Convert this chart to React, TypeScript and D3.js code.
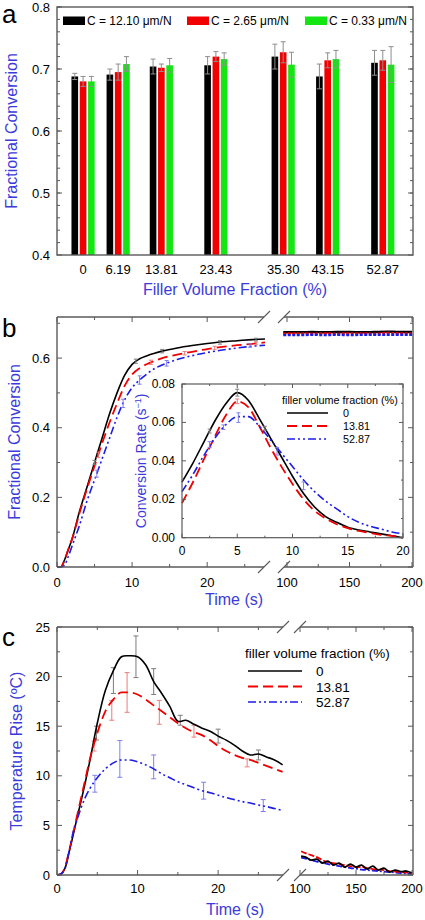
import React from 'react';
import * as d3 from 'd3';

const FONT = '"Liberation Sans", Arial, Helvetica, sans-serif';
const LABEL_BLUE = '#3b3bdb';
const FRAME = '#5a5a5a';

// ---------------- panel a data ----------------
const fillerFractions = [0, 6.19, 13.81, 23.43, 35.3, 43.15, 52.87];
const fillerLabels = ['0', '6.19', '13.81', '23.43', '35.30', '43.15', '52.87'];
const complianceNames = ['C = 12.10 μm/N', 'C = 2.65 μm/N', 'C = 0.33 μm/N'];
const complianceColors = ['#000000', '#f20000', '#14e614'];
const conversionC1210 = [0.688, 0.691, 0.704, 0.706, 0.72, 0.688, 0.71];
const errorC1210 = [0.005, 0.009, 0.012, 0.014, 0.02, 0.02, 0.02];
const conversionC265 = [0.68, 0.695, 0.702, 0.72, 0.727, 0.714, 0.714];
const errorC265 = [0.008, 0.013, 0.006, 0.008, 0.017, 0.012, 0.016];
const conversionC033 = [0.68, 0.708, 0.706, 0.716, 0.707, 0.716, 0.707];
const errorC033 = [0.008, 0.012, 0.011, 0.01, 0.02, 0.014, 0.029];
const yTicksA = [0.4, 0.5, 0.6, 0.7, 0.8];

// ---------------- panel b data ----------------
const fractionNames = ['0', '13.81', '52.87'];
const timeB = [0, 0.5, 1, 1.5, 2, 3, 4, 5, 6, 7, 8, 9, 10, 11, 12, 13, 14, 16, 18, 20, 22, 24, 26, 27.7];
const convB0 = [0, 0, 0.02, 0.05, 0.08, 0.16, 0.23, 0.3, 0.37, 0.44, 0.5, 0.55, 0.582, 0.598, 0.607, 0.614, 0.62, 0.629, 0.636, 0.642, 0.647, 0.65, 0.653, 0.655];
const convB1381 = [0, 0, 0.02, 0.05, 0.08, 0.155, 0.225, 0.29, 0.355, 0.415, 0.47, 0.52, 0.553, 0.571, 0.583, 0.592, 0.6, 0.61, 0.618, 0.626, 0.632, 0.637, 0.641, 0.645];
const convB5287 = [0, 0, 0.005, 0.03, 0.06, 0.12, 0.19, 0.25, 0.31, 0.37, 0.43, 0.48, 0.515, 0.537, 0.555, 0.57, 0.58, 0.596, 0.607, 0.616, 0.623, 0.629, 0.634, 0.637];
const timeBLate = [97, 110, 120, 130, 140, 150, 160, 170, 180, 190, 200];
const convBLate0 = [0.674, 0.674, 0.675, 0.674, 0.675, 0.675, 0.674, 0.675, 0.676, 0.675, 0.675];
const convBLate1381 = [0.67, 0.671, 0.67, 0.671, 0.67, 0.671, 0.671, 0.67, 0.672, 0.671, 0.671];
const convBLate5287 = [0.666, 0.666, 0.667, 0.666, 0.667, 0.666, 0.667, 0.667, 0.667, 0.667, 0.667];
const errTimeB0 = [5, 10.5, 14, 21.7, 26.5];
const errCenterB0 = [0.3, 0.591, 0.62, 0.645, 0.653];
const errSizeB0 = [0.006, 0.006, 0.005, 0.005, 0.004];
const errTimeB1381 = [5.5, 12.5, 17, 21, 26.5];
const errCenterB1381 = [0.322, 0.588, 0.614, 0.629, 0.642];
const errSizeB1381 = [0.008, 0.006, 0.005, 0.005, 0.004];
const errTimeB5287 = [5.3, 8.8, 11, 14.6, 25.7];
const errCenterB5287 = [0.268, 0.47, 0.537, 0.585, 0.636];
const errSizeB5287 = [0.01, 0.012, 0.012, 0.008, 0.005];

// inset (conversion rate)
const timeInset = [0, 1, 2, 3, 4, 5, 6, 7, 8, 9, 10, 11, 12, 13, 14, 15, 16, 17, 18, 19, 20];
const rate0 = [0.029, 0.039, 0.05, 0.061, 0.07, 0.0755, 0.0715, 0.062, 0.052, 0.042, 0.032, 0.023, 0.016, 0.011, 0.008, 0.0055, 0.004, 0.003, 0.002, 0.001, 0];
const rate1381 = [0.018, 0.029, 0.041, 0.053, 0.064, 0.071, 0.068, 0.058, 0.047, 0.037, 0.028, 0.02, 0.014, 0.01, 0.007, 0.005, 0.0035, 0.0025, 0.0015, 0.001, 0];
const rate5287 = [0.024, 0.033, 0.043, 0.052, 0.059, 0.063, 0.063, 0.058, 0.051, 0.044, 0.037, 0.03, 0.024, 0.019, 0.015, 0.011, 0.008, 0.006, 0.0045, 0.003, 0.002];
const errTimeI0 = [2.5, 5, 7.5];
const errCenterI0 = [0.0555, 0.0755, 0.057];
const errSizeI0 = [0.001, 0.0018, 0.001];
const errTimeI1381 = [5];
const errCenterI1381 = [0.071];
const errSizeI1381 = [0.0012];
const errTimeI5287 = [2.5, 3.75, 5.1, 8.6, 11];
const errCenterI5287 = [0.0485, 0.0575, 0.0625, 0.045, 0.027];
const errSizeI5287 = [0.0015, 0.0012, 0.0025, 0.002, 0.002];

// ---------------- panel c data ----------------
const timeC = [0, 0.5, 1, 1.5, 2, 2.5, 3, 3.5, 4, 5, 6, 7, 8, 9, 10, 11, 12, 13, 14, 15, 16, 17, 18, 19, 20, 21, 22, 23, 24, 25, 26, 27, 28];
const tempC0 = [0, 0.1, 0.7, 2.3, 4.0, 5.8, 7.5, 9.3, 11.2, 15.3, 18.6, 20.6, 22.0, 22.1, 22.0, 21.2, 19.5, 18.3, 17.0, 15.5, 15.6, 15.2, 14.8, 14.5, 14.0, 13.6, 13.1, 12.5, 12.1, 12.2, 11.9, 11.6, 11.1];
const tempC1381 = [0, 0.1, 0.8, 2.4, 4.2, 6.0, 7.8, 9.6, 11.4, 14.3, 16.5, 17.7, 18.4, 18.4, 18.2, 17.7, 17.1, 16.5, 15.9, 15.3, 14.8, 14.4, 14.1, 13.6, 13.0, 12.5, 12.1, 11.8, 11.6, 11.3, 11.0, 10.7, 10.4];
const tempC5287 = [0, 0.1, 0.7, 2.4, 4.3, 5.6, 6.8, 7.8, 8.6, 9.8, 10.7, 11.3, 11.6, 11.6, 11.4, 11.1, 10.7, 10.2, 9.8, 9.4, 9.1, 8.8, 8.5, 8.3, 8.05, 7.8, 7.6, 7.4, 7.25, 7.05, 6.9, 6.7, 6.5];
const timeCLate = [101, 105, 110, 115, 120, 125, 130, 135, 140, 145, 150, 155, 160, 165, 170, 175, 180, 185, 190, 195, 200];
const tempCLate0 = [1.9, 1.8, 1.5, 1.6, 1.2, 1.4, 1.0, 1.2, 0.8, 1.1, 0.8, 1.0, 0.6, 0.9, 0.5, 0.7, 0.3, 0.5, 0.35, 0.4, 0.2];
const tempCLate1381 = [2.4, 2.2, 2.0, 1.8, 1.5, 1.3, 1.2, 1.1, 1.0, 0.9, 0.8, 0.8, 0.7, 0.6, 0.55, 0.5, 0.4, 0.35, 0.3, 0.25, 0.2];
const tempCLate5287 = [1.75, 1.65, 1.5, 1.35, 1.25, 1.1, 1.0, 0.9, 0.8, 0.7, 0.65, 0.55, 0.5, 0.45, 0.4, 0.35, 0.3, 0.25, 0.2, 0.15, 0.15];
const errTimeC0 = [4.9, 7.0, 9.8, 12.0, 15.3, 20.0, 25.0];
const errCenterC0 = [14.3, 19.6, 22.0, 19.5, 15.6, 14.0, 12.1];
const errSizeC0 = [0.7, 1.3, 2.1, 1.3, 0.5, 0.7, 0.5];
const errTimeC1381 = [4.6, 6.8, 8.7, 12.7, 17.0, 23.6];
const errCenterC1381 = [13.0, 16.6, 18.4, 16.4, 14.5, 11.3];
const errSizeC1381 = [0.5, 1.0, 2.0, 1.2, 0.6, 0.4];
const errTimeC5287 = [4.7, 7.8, 12.0, 18.2, 25.6];
const errCenterC5287 = [9.2, 11.7, 10.9, 8.5, 7.0];
const errSizeC5287 = [0.85, 1.85, 1.2, 0.85, 0.6];

// ---------------- styles ----------------
const lineStyles = [
  { color: '#000000', dash: undefined as string | undefined, width: 1.6, err: '#7c7c7c' },
  { color: '#f00000', dash: '10,5', width: 1.8, err: '#f07a7a' },
  { color: '#1c1ce8', dash: '8,3,2,3,2,3', width: 1.6, err: '#7f7fee' },
];

type Lin = d3.ScaleLinear<number, number>;

function zip(xs: number[], ys: number[]): [number, number][] {
  return xs.map((x, i) => [x, ys[i]]);
}

function pathOf(x: Lin, y: Lin, data: [number, number][], curve: any = d3.curveMonotoneX) {
  return d3
    .line<[number, number]>()
    .x((d) => x(d[0]))
    .y((d) => y(d[1]))
    .curve(curve)(data) as string;
}

function YTicks({ y, values, left, right, len }: { y: Lin; values: number[]; left: number; right: number; len: number }) {
  return (
    <g stroke={FRAME} strokeWidth={1}>
      {values.map((v, i) => (
        <g key={i}>
          <line x1={left} x2={left + len} y1={y(v)} y2={y(v)} />
          <line x1={right} x2={right - len} y1={y(v)} y2={y(v)} />
        </g>
      ))}
    </g>
  );
}

function XTicks({ x, values, top, bottom, len }: { x: Lin; values: number[]; top: number; bottom: number; len: number }) {
  return (
    <g stroke={FRAME} strokeWidth={1}>
      {values.map((v, i) => (
        <g key={i}>
          <line x1={x(v)} x2={x(v)} y1={bottom} y2={bottom - len} />
          <line x1={x(v)} x2={x(v)} y1={top} y2={top + len} />
        </g>
      ))}
    </g>
  );
}

function ErrorBars({ x, y, times, centers, sizes, color, cap = 2.5 }: any) {
  return (
    <g stroke={color} strokeWidth={1}>
      {times.map((t: number, i: number) => {
        const cx = x(t);
        const y1 = y(centers[i] - sizes[i]);
        const y2 = y(centers[i] + sizes[i]);
        return (
          <g key={i}>
            <line x1={cx} x2={cx} y1={y1} y2={y2} />
            <line x1={cx - cap} x2={cx + cap} y1={y1} y2={y1} />
            <line x1={cx - cap} x2={cx + cap} y1={y2} y2={y2} />
          </g>
        );
      })}
    </g>
  );
}

function Slash({ cx, cy }: { cx: number; cy: number }) {
  return <line x1={cx - 6} y1={cy + 6} x2={cx + 6} y2={cy - 6} stroke={FRAME} strokeWidth={1.1} />;
}

function BrokenFrame({ L, R, T, B, b1, b2 }: { L: number; R: number; T: number; B: number; b1: number; b2: number }) {
  return (
    <g stroke={FRAME} strokeWidth={1.4} fill="none">
      <line x1={L} x2={L} y1={T} y2={B} />
      <line x1={R} x2={R} y1={T} y2={B} />
      <line x1={L} x2={b1} y1={T} y2={T} />
      <line x1={b2} x2={R} y1={T} y2={T} />
      <line x1={L} x2={b1} y1={B} y2={B} />
      <line x1={b2} x2={R} y1={B} y2={B} />
      <Slash cx={b1} cy={T} />
      <Slash cx={b2} cy={T} />
      <Slash cx={b1} cy={B} />
      <Slash cx={b2} cy={B} />
    </g>
  );
}

// ---------------- panel a ----------------
function PanelA() {
  const L = 57, R = 413, T = 7, B = 255;
  const x = d3.scaleLinear().domain([-4.6, 58.2]).range([L, R]);
  const y = d3.scaleLinear().domain([0.4, 0.8]).range([B, T]);
  const band = d3.scaleBand<number>().domain([0, 1, 2]).range([-11.6, 11.6]).paddingInner(0.2);
  const series = [
    { values: conversionC1210, errors: errorC1210 },
    { values: conversionC265, errors: errorC265 },
    { values: conversionC033, errors: errorC033 },
  ];
  const minor = d3.range(0.42, 0.8, 0.02);
  const legendX = [63, 187, 305];
  return (
    <g>
      {series.map((s, si) =>
        s.values.map((v, i) => (
          <rect
            key={`${si}-${i}`}
            x={x(fillerFractions[i]) + (band(si) as number)}
            y={y(v)}
            width={band.bandwidth()}
            height={y(0.4) - y(v)}
            fill={complianceColors[si]}
          />
        ))
      )}
      {series.map((s, si) =>
        s.values.map((v, i) => {
          const cx = x(fillerFractions[i]) + (band(si) as number) + band.bandwidth() / 2;
          const y1 = y(v - s.errors[i]);
          const y2 = y(v + s.errors[i]);
          return (
            <g key={`e${si}-${i}`} stroke="#8e8e8e" strokeWidth={1}>
              <line x1={cx} x2={cx} y1={y1} y2={y2} />
              <line x1={cx - 2.5} x2={cx + 2.5} y1={y1} y2={y1} />
              <line x1={cx - 2.5} x2={cx + 2.5} y1={y2} y2={y2} />
            </g>
          );
        })
      )}
      <rect x={L} y={T} width={R - L} height={B - T} fill="none" stroke={FRAME} strokeWidth={1.4} />
      <YTicks y={y} values={yTicksA} left={L} right={R} len={5} />
      <YTicks y={y} values={minor} left={L} right={R} len={3} />
      {yTicksA.map((v) => (
        <text key={v} x={50} y={y(v) + 4.5} fontSize={13} textAnchor="end">
          {v.toFixed(1)}
        </text>
      ))}
      {fillerFractions.map((f, i) => (
        <text key={f} x={x(f)} y={274} fontSize={13} textAnchor="middle">
          {fillerLabels[i]}
        </text>
      ))}
      <text x={235} y={295} fontSize={16} fill={LABEL_BLUE} textAnchor="middle">
        Filler Volume Fraction (%)
      </text>
      <text transform={`translate(17,${(T + B) / 2}) rotate(-90)`} fontSize={16} fill={LABEL_BLUE} textAnchor="middle">
        Fractional Conversion
      </text>
      <text x={2} y={23} fontSize={26}>a</text>
      {complianceNames.map((n, i) => (
        <g key={n}>
          <rect x={legendX[i]} y={16.5} width={22} height={8.5} fill={complianceColors[i]} />
          <text x={legendX[i] + 24} y={25} fontSize={12}>
            {n}
          </text>
        </g>
      ))}
    </g>
  );
}

// ---------------- panel b ----------------
function PanelB() {
  const L = 57, R = 413, T = 317, B = 567;
  const b1 = 264, b2 = 284;
  const xL = d3.scaleLinear().domain([0, 27.7]).range([L, 265]);
  const xR = d3.scaleLinear().domain([100, 200]).range([287, 412]);
  const y = d3.scaleLinear().domain([0, 0.718]).range([B, T]);
  const early = [convB0, convB1381, convB5287];
  const late = [convBLate0, convBLate1381, convBLate5287];
  const errs = [
    [errTimeB0, errCenterB0, errSizeB0],
    [errTimeB1381, errCenterB1381, errSizeB1381],
    [errTimeB5287, errCenterB5287, errSizeB5287],
  ];

  // inset
  const IL = 182, IR = 403, IT = 384, IB = 537.7;
  const xi = d3.scaleLinear().domain([0, 20]).range([IL, IR]);
  const yi = d3.scaleLinear().domain([0, 0.08]).range([IB, IT]);
  const rates = [rate0, rate1381, rate5287];
  const ierrs = [
    [errTimeI0, errCenterI0, errSizeI0],
    [errTimeI1381, errCenterI1381, errSizeI1381],
    [errTimeI5287, errCenterI5287, errSizeI5287],
  ];
  const iYMajor = [0, 0.02, 0.04, 0.06, 0.08];
  const iYMinor = [0.01, 0.03, 0.05, 0.07];
  const iXMajor = [0, 5, 10, 15, 20];
  const iXMinor = [2.5, 7.5, 12.5, 17.5];

  return (
    <g>
      {early.map((vals, si) => (
        <path
          key={`l${si}`}
          d={pathOf(xL, y, zip(timeB, vals))}
          fill="none"
          stroke={lineStyles[si].color}
          strokeWidth={lineStyles[si].width}
          strokeDasharray={lineStyles[si].dash}
        />
      ))}
      {errs.map((e, si) => (
        <ErrorBars key={`eb${si}`} x={xL} y={y} times={e[0]} centers={e[1]} sizes={e[2]} color={lineStyles[si].err} cap={2} />
      ))}
      {late.map((vals, si) => (
        <path
          key={`r${si}`}
          d={pathOf(xR, y, zip(timeBLate, vals))}
          fill="none"
          stroke={lineStyles[si].color}
          strokeWidth={2.4}
          strokeDasharray={si === 0 ? undefined : '3,1.5'}
        />
      ))}
      <BrokenFrame L={L} R={R} T={T} B={B} b1={b1} b2={b2} />
      <YTicks y={y} values={[0, 0.2, 0.4, 0.6]} left={L} right={R} len={5} />
      <YTicks y={y} values={[0.1, 0.3, 0.5, 0.7]} left={L} right={R} len={3} />
      <XTicks x={xL} values={[0, 10, 20]} top={T} bottom={B} len={5} />
      <XTicks x={xL} values={[5, 15, 25]} top={T} bottom={B} len={3} />
      <XTicks x={xR} values={[100, 150, 200]} top={T} bottom={B} len={5} />
      <XTicks x={xR} values={[125, 175]} top={T} bottom={B} len={3} />
      {[0, 0.2, 0.4, 0.6].map((v) => (
        <text key={v} x={50} y={y(v) + 4.5} fontSize={13} textAnchor="end">
          {v.toFixed(1)}
        </text>
      ))}
      {[0, 10, 20].map((v) => (
        <text key={v} x={xL(v)} y={587} fontSize={13} textAnchor="middle">
          {v}
        </text>
      ))}
      {[100, 150, 200].map((v) => (
        <text key={v} x={xR(v)} y={587} fontSize={13} textAnchor="middle">
          {v}
        </text>
      ))}
      <text x={234} y={605} fontSize={16} fill={LABEL_BLUE} textAnchor="middle">
        Time (s)
      </text>
      <text transform={`translate(20,${(T + B) / 2}) rotate(-90)`} fontSize={16} fill={LABEL_BLUE} textAnchor="middle">
        Fractional Conversion
      </text>
      <text x={2} y={337} fontSize={26}>b</text>

      {/* inset */}
      <rect x={IL} y={IT} width={IR - IL} height={IB - IT} fill="#fff" />
      {rates.map((vals, si) => (
        <path
          key={`i${si}`}
          d={pathOf(xi, yi, zip(timeInset, vals))}
          fill="none"
          stroke={lineStyles[si].color}
          strokeWidth={lineStyles[si].width}
          strokeDasharray={lineStyles[si].dash}
        />
      ))}
      {ierrs.map((e, si) => (
        <ErrorBars key={`ie${si}`} x={xi} y={yi} times={e[0]} centers={e[1]} sizes={e[2]} color={lineStyles[si].err} cap={2} />
      ))}
      <rect x={IL} y={IT} width={IR - IL} height={IB - IT} fill="none" stroke={FRAME} strokeWidth={1.2} />
      <YTicks y={yi} values={iYMajor} left={IL} right={IR} len={4} />
      <YTicks y={yi} values={iYMinor} left={IL} right={IR} len={2} />
      <XTicks x={xi} values={iXMajor} top={IT} bottom={IB} len={4} />
      <XTicks x={xi} values={iXMinor} top={IT} bottom={IB} len={2} />
      {iYMajor.map((v) => (
        <text key={v} x={175} y={yi(v) + 4} fontSize={12} textAnchor="end">
          {v.toFixed(2)}
        </text>
      ))}
      {iXMajor.map((v) => (
        <text key={v} x={xi(v)} y={555} fontSize={12} textAnchor="middle">
          {v}
        </text>
      ))}
      <text transform={`translate(146,${(IT + IB) / 2}) rotate(-90)`} fontSize={14} fill={LABEL_BLUE} textAnchor="middle">
        Conversion Rate (s<tspan baselineShift="super" fontSize={9}>−1</tspan>)
      </text>
      <text x={282} y={404} fontSize={10.8}>
        filler volume fraction (%)
      </text>
      {fractionNames.map((n, i) => (
        <g key={n}>
          <line
            x1={287}
            x2={328}
            y1={413 + i * 13}
            y2={413 + i * 13}
            stroke={lineStyles[i].color}
            strokeWidth={lineStyles[i].width}
            strokeDasharray={lineStyles[i].dash}
          />
          <text x={343} y={417 + i * 13} fontSize={10.8}>
            {n}
          </text>
        </g>
      ))}
    </g>
  );
}

// ---------------- panel c ----------------
function PanelC() {
  const L = 57, R = 413, T = 627, B = 875;
  const b1 = 283, b2 = 300;
  const xL = d3.scaleLinear().domain([0, 28.3]).range([L, 285]);
  const xR = d3.scaleLinear().domain([100, 200]).range([300, 412]);
  const y = d3.scaleLinear().domain([0, 25]).range([B, T]);
  const early = [tempC0, tempC1381, tempC5287];
  const late = [tempCLate0, tempCLate1381, tempCLate5287];
  const errs = [
    [errTimeC0, errCenterC0, errSizeC0],
    [errTimeC1381, errCenterC1381, errSizeC1381],
    [errTimeC5287, errCenterC5287, errSizeC5287],
  ];
  return (
    <g>
      {errs.map((e, si) => (
        <ErrorBars key={`eb${si}`} x={xL} y={y} times={e[0]} centers={e[1]} sizes={e[2]} color={lineStyles[si].err} cap={2.5} />
      ))}
      {early.map((vals, si) => (
        <path
          key={`l${si}`}
          d={pathOf(xL, y, zip(timeC, vals), si === 0 ? d3.curveCatmullRom : d3.curveMonotoneX)}
          fill="none"
          stroke={lineStyles[si].color}
          strokeWidth={lineStyles[si].width}
          strokeDasharray={lineStyles[si].dash}
        />
      ))}
      {late
        .map((vals, si) => ({ vals, si }))
        .reverse()
        .map(({ vals, si }) => (
          <path
            key={`r${si}`}
            d={pathOf(xR, y, zip(timeCLate, vals), d3.curveCatmullRom)}
            fill="none"
            stroke={lineStyles[si].color}
            strokeWidth={1.8}
            strokeDasharray={si === 0 ? undefined : si === 1 ? '6,2' : '6,2,2,2'}
          />
        ))}
      <BrokenFrame L={L} R={R} T={T} B={B} b1={b1} b2={b2} />
      <YTicks y={y} values={[0, 5, 10, 15, 20, 25]} left={L} right={R} len={5} />
      <YTicks y={y} values={[2.5, 7.5, 12.5, 17.5, 22.5]} left={L} right={R} len={3} />
      <XTicks x={xL} values={[0, 10, 20]} top={T} bottom={B} len={5} />
      <XTicks x={xL} values={[5, 15, 25]} top={T} bottom={B} len={3} />
      <XTicks x={xR} values={[100, 150, 200]} top={T} bottom={B} len={5} />
      <XTicks x={xR} values={[125, 175]} top={T} bottom={B} len={3} />
      {[0, 5, 10, 15, 20, 25].map((v) => (
        <text key={v} x={50} y={y(v) + 4.5} fontSize={13} textAnchor="end">
          {v}
        </text>
      ))}
      {[0, 10, 20].map((v) => (
        <text key={v} x={xL(v)} y={893} fontSize={13} textAnchor="middle">
          {v}
        </text>
      ))}
      {[100, 150, 200].map((v) => (
        <text key={v} x={xR(v)} y={893} fontSize={13} textAnchor="middle">
          {v}
        </text>
      ))}
      <text x={235} y={915} fontSize={16} fill={LABEL_BLUE} textAnchor="middle">
        Time (s)
      </text>
      <text transform={`translate(22,${(T + B) / 2}) rotate(-90)`} fontSize={16} fill={LABEL_BLUE} textAnchor="middle">
        Temperature Rise (ºC)
      </text>
      <text x={2} y={646} fontSize={26}>c</text>
      <text x={245} y={658} fontSize={13.5}>
        filler volume fraction (%)
      </text>
      {fractionNames.map((n, i) => (
        <g key={n}>
          <line
            x1={248}
            x2={302}
            y1={671 + i * 15.5}
            y2={671 + i * 15.5}
            stroke={lineStyles[i].color}
            strokeWidth={lineStyles[i].width}
            strokeDasharray={lineStyles[i].dash}
          />
          <text x={316} y={676 + i * 15.5} fontSize={13.5}>
            {n}
          </text>
        </g>
      ))}
    </g>
  );
}

export default function App() {
  return (
    <svg
      width={425}
      height={920}
      viewBox="0 0 425 920"
      style={{ position: 'absolute', left: 0, top: 0, display: 'block' }}
      fontFamily={FONT}
    >
      <rect width={425} height={920} fill="#fff" />
      <PanelA />
      <PanelB />
      <PanelC />
    </svg>
  );
}
